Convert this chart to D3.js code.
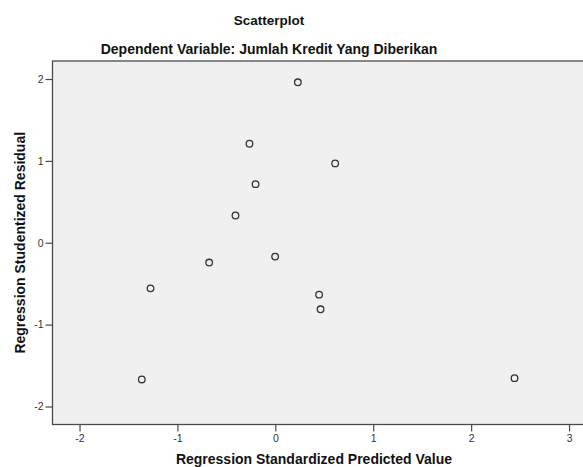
<!DOCTYPE html>
<html>
<head>
<meta charset="utf-8">
<script src="https://cdn.jsdelivr.net/npm/d3@7"></script>
<style>
  html, body { margin: 0; padding: 0; background: #ffffff; }
  svg { display: block; }
  text { font-family: "Liberation Sans", Arial, sans-serif; }
</style>
</head>
<body>
<svg id="chart" width="583" height="467"></svg>
<script>
// Data
const predicted = [0.230, -0.264, 0.611, -0.202, -0.407, -0.676, -0.002, -1.275, 0.447, 0.462, -1.364, 2.443];
const residual  = [1.960, 1.209, 0.969, 0.716, 0.333, -0.242, -0.169, -0.557, -0.634, -0.813, -1.670, -1.654];
const xTicks = [-2, -1, 0, 1, 2, 3];
const yTicks = [-2, -1, 0, 1, 2];
const title = "Scatterplot";
const subtitle = "Dependent Variable: Jumlah Kredit Yang Diberikan";
const xTitle = "Regression Standardized Predicted Value";
const yTitle = "Regression Studentized Residual";

const svg = d3.select("#chart");
const plot = { left: 52.5, top: 61, right: 590, bottom: 424.5 };

const x = d3.scaleLinear().domain([-2.276, 3.214]).range([plot.left, plot.right]);
const y = d3.scaleLinear().domain([-2.22, 2.22]).range([plot.bottom, plot.top]);

// plot background
svg.append("rect")
  .attr("x", plot.left).attr("y", plot.top)
  .attr("width", plot.right - plot.left).attr("height", plot.bottom - plot.top)
  .attr("fill", "#f0f0f0").attr("stroke", "#4a4a4a").attr("stroke-width", 1.3);

// axes
const xAxis = d3.axisBottom(x).tickValues(xTicks).tickSize(7).tickPadding(3).tickFormat(d3.format("d"));
const yAxis = d3.axisLeft(y).tickValues(yTicks).tickSize(7).tickPadding(2).tickFormat(d3.format("d"));

const gx = svg.append("g").attr("transform", `translate(0,${plot.bottom})`).call(xAxis);
const gy = svg.append("g").attr("transform", `translate(${plot.left},0)`).call(yAxis);
[gx, gy].forEach(g => {
  g.select(".domain").remove();
  g.selectAll(".tick line").attr("stroke", "#4a4a4a").attr("stroke-width", 1.2);
  g.selectAll(".tick text").attr("fill", "#333").style("font-size", "10.5px")
    .style("font-family", "'Liberation Sans', Arial, sans-serif");
});
gy.selectAll(".tick text").text(d => d < 0 ? "-" + Math.abs(d) : d);
gx.selectAll(".tick text").text(d => d < 0 ? "-" + Math.abs(d) : d);

// points
svg.append("g").selectAll("circle")
  .data(predicted.map((p, i) => ({ p, r: residual[i] })))
  .join("circle")
  .attr("cx", d => x(d.p)).attr("cy", d => y(d.r))
  .attr("r", 3.3)
  .attr("fill", "none").attr("stroke", "#333").attr("stroke-width", 1.3);

// titles
svg.append("text").attr("x", 269).attr("y", 25).attr("text-anchor", "middle")
  .style("font-size", "13.5px").style("font-weight", "bold").attr("fill", "#111").text(title);
svg.append("text").attr("x", 269).attr("y", 54).attr("text-anchor", "middle")
  .style("font-size", "14px").style("font-weight", "bold").attr("fill", "#111").text(subtitle);
svg.append("text").attr("x", 314).attr("y", 464).attr("text-anchor", "middle")
  .style("font-size", "14px").style("font-weight", "bold").attr("fill", "#111").text(xTitle);
svg.append("text").attr("transform", `translate(25,${(plot.top + plot.bottom) / 2}) rotate(-90)`)
  .attr("text-anchor", "middle")
  .style("font-size", "14px").style("font-weight", "bold").attr("fill", "#111").text(yTitle);
</script>
</body>
</html>
